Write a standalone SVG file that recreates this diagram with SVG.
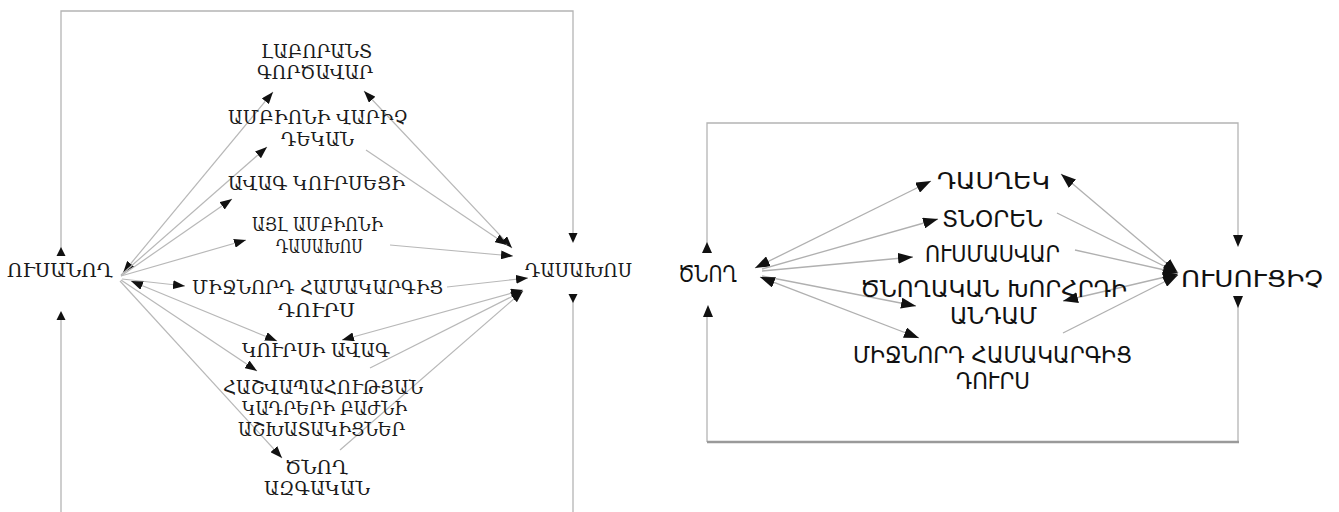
<svg xmlns="http://www.w3.org/2000/svg" width="1339" height="512" viewBox="0 0 1339 512">
<style>
.l{font-family:"DejaVu Serif","Noto Serif",serif;font-size:18.5px;fill:#1a1a1a;text-anchor:start}
.r{font-family:"DejaVu Sans","Noto Sans",sans-serif;font-size:22.5px;fill:#111;text-anchor:start}
.c{fill:none;stroke:#b8b8b8;stroke-width:1.2}
.cr{fill:none;stroke:#b0b0b0;stroke-width:1.3}
.f{fill:none;stroke:#b4b4b4;stroke-width:1.3}
.fb{fill:none;stroke:#9a9a9a;stroke-width:2.5}
.h{fill:#111}
</style>
<defs>
<marker id="a" viewBox="0 0 12 9" refX="12" refY="4.5" markerWidth="12" markerHeight="9" markerUnits="userSpaceOnUse" orient="auto-start-reverse"><path d="M0,0 L12,4.5 L0,9 z" fill="#111"/></marker>
<marker id="b" viewBox="0 0 15 11" refX="15" refY="5.5" markerWidth="15" markerHeight="11" markerUnits="userSpaceOnUse" orient="auto-start-reverse"><path d="M0,0 L15,5.5 L0,11 z" fill="#111"/></marker>
</defs>

<g id="connectors">
<!-- left frame -->
<polyline class="f" points="61,252 61,11 573,11 573,236"/>
<polygon class="h" points="61,247 56.5,256 65.5,256"/>
<polygon class="h" points="573,243 568.5,233 577.5,233"/>
<line class="f" x1="61" y1="318" x2="61" y2="512"/>
<polygon class="h" points="61,311 56.5,320 65.5,320"/>
<line class="f" x1="573" y1="300" x2="573" y2="512"/>
<polygon class="h" points="573,303 568.5,294 577.5,294"/>

<!-- left connectors from ՈՒՍԱՆՈՂ -->
<line class="c" x1="123" y1="273" x2="273" y2="92" marker-start="url(#a)" marker-end="url(#a)"/>
<line class="c" x1="121" y1="275" x2="267" y2="147" marker-end="url(#a)"/>
<line class="c" x1="121" y1="276" x2="232" y2="199" marker-end="url(#a)"/>
<line class="c" x1="121" y1="276" x2="246" y2="240" marker-end="url(#a)"/>
<line class="c" x1="122" y1="279" x2="185" y2="286" marker-end="url(#a)"/>
<line class="c" x1="131" y1="281" x2="277" y2="341" marker-start="url(#a)" marker-end="url(#a)"/>
<line class="c" x1="121" y1="280" x2="257" y2="371" marker-end="url(#a)"/>
<line class="c" x1="120" y1="281" x2="282" y2="458" marker-end="url(#a)"/>

<!-- left connectors to ԴԱՍԱԽՈՍ -->
<line class="c" x1="364" y1="91" x2="512" y2="248" marker-start="url(#a)" marker-end="url(#a)"/>
<line class="c" x1="366" y1="150" x2="507" y2="245" marker-end="url(#a)"/>
<line class="c" x1="390" y1="245" x2="513" y2="256" marker-end="url(#a)"/>
<line class="c" x1="447" y1="287" x2="528" y2="278" marker-end="url(#a)"/>
<line class="c" x1="342" y1="340" x2="523" y2="290" marker-start="url(#a)" marker-end="url(#a)"/>
<line class="c" x1="370" y1="368" x2="523" y2="291" marker-end="url(#a)"/>
<line class="c" x1="340" y1="450" x2="523" y2="291" marker-end="url(#a)"/>

<!-- right frame -->
<polyline class="f" points="707,250 707,123 1238,123 1238,236"/>
<polygon class="h" points="707,242 702,253 712,253"/>
<polygon class="h" points="1238,247 1233,235 1243,235"/>
<line class="f" x1="707" y1="317" x2="707" y2="442"/>
<line class="f" x1="1238" y1="306" x2="1238" y2="442"/>
<line class="fb" x1="707" y1="442" x2="1239" y2="442"/>
<polygon class="h" points="708,305 703,317 713,317"/>
<polygon class="h" points="1238,308 1233,296 1243,296"/>

<!-- right connectors from ԾՆՈՂ -->
<line class="cr" x1="755" y1="268" x2="931" y2="181" marker-start="url(#b)" marker-end="url(#b)"/>
<line class="cr" x1="762" y1="269" x2="938" y2="219" marker-end="url(#b)"/>
<line class="cr" x1="762" y1="271" x2="913" y2="257" marker-end="url(#b)"/>
<line class="cr" x1="762" y1="276" x2="916" y2="306" marker-end="url(#b)"/>
<line class="cr" x1="760" y1="277" x2="919" y2="338" marker-start="url(#b)" marker-end="url(#b)"/>

<!-- right connectors to ՈՒՍՈՒՑԻՉ -->
<line class="cr" x1="1061" y1="174" x2="1178" y2="273" marker-start="url(#b)" marker-end="url(#b)"/>
<line class="cr" x1="1057" y1="213" x2="1178" y2="273" marker-end="url(#b)"/>
<line class="cr" x1="1075" y1="250" x2="1178" y2="273" marker-end="url(#b)"/>
<line class="cr" x1="1063" y1="301" x2="1178" y2="274" marker-start="url(#b)" marker-end="url(#b)"/>
<line class="cr" x1="1063" y1="333" x2="1178" y2="275" marker-end="url(#b)"/>
</g>

<!-- left nodes -->
<g id="usanogh"><text class="l" x="7" y="277" textLength="106" lengthAdjust="spacingAndGlyphs">ՈՒՍԱՆՈՂ</text></g>
<g id="dasakhos"><text class="l" x="525" y="277" textLength="107" lengthAdjust="spacingAndGlyphs">ԴԱՍԱԽՈՍ</text></g>
<g id="laborant">
<text class="l" x="261" y="58" textLength="111" lengthAdjust="spacingAndGlyphs">ԼԱԲՈՐԱՆՏ</text>
<text class="l" x="257" y="79" textLength="116" lengthAdjust="spacingAndGlyphs">ԳՈՐԾԱՎԱՐ</text>
</g>
<g id="ambion-varich">
<text class="l" x="228" y="124" textLength="180" lengthAdjust="spacingAndGlyphs">ԱՄԲԻՈՆԻ ՎԱՐԻՉ</text>
<text class="l" x="281" y="146" textLength="73" lengthAdjust="spacingAndGlyphs">ԴԵԿԱՆ</text>
</g>
<g id="avag-kursetsi"><text class="l" x="228" y="190" textLength="177" lengthAdjust="spacingAndGlyphs">ԱՎԱԳ ԿՈՒՐՍԵՑԻ</text></g>
<g id="ayl-ambion">
<text class="l" x="252" y="231" textLength="131" lengthAdjust="spacingAndGlyphs">ԱՅԼ ԱՄԲԻՈՆԻ</text>
<text class="l" x="276" y="253" textLength="87" lengthAdjust="spacingAndGlyphs">ԴԱՍԱԽՈՍ</text>
</g>
<g id="mijnord-l">
<text class="l" x="192" y="294" textLength="251" lengthAdjust="spacingAndGlyphs">ՄԻՋՆՈՐԴ ՀԱՄԱԿԱՐԳԻՑ</text>
<text class="l" x="278" y="317" textLength="77" lengthAdjust="spacingAndGlyphs">ԴՈՒՐՍ</text>
</g>
<g id="kursi-avag"><text class="l" x="242" y="357" textLength="148" lengthAdjust="spacingAndGlyphs">ԿՈՒՐՍԻ ԱՎԱԳ</text></g>
<g id="hashvapah">
<text class="l" x="223" y="394" textLength="200" lengthAdjust="spacingAndGlyphs">ՀԱՇՎԱՊԱՀՈՒԹՅԱՆ</text>
<text class="l" x="242" y="415" textLength="165" lengthAdjust="spacingAndGlyphs">ԿԱԴՐԵՐԻ ԲԱԺՆԻ</text>
<text class="l" x="238" y="436" textLength="167" lengthAdjust="spacingAndGlyphs">ԱՇԽԱՏԱԿԻՑՆԵՐ</text>
</g>
<g id="tsnogh-azgakan">
<text class="l" x="285" y="474" textLength="63" lengthAdjust="spacingAndGlyphs">ԾՆՈՂ</text>
<text class="l" x="264" y="495" textLength="106" lengthAdjust="spacingAndGlyphs">ԱԶԳԱԿԱՆ</text>
</g>

<!-- right nodes -->
<g id="tsnogh"><text class="r" x="678" y="282" textLength="59" lengthAdjust="spacingAndGlyphs">ԾՆՈՂ</text></g>
<g id="usutsich"><text class="r" x="1181" y="287" textLength="142" lengthAdjust="spacingAndGlyphs">ՈՒՍՈՒՑԻՉ</text></g>
<g id="dasghek"><text class="r" x="937" y="189" textLength="113" lengthAdjust="spacingAndGlyphs">ԴԱՍՂԵԿ</text></g>
<g id="tnoren"><text class="r" x="942" y="227" textLength="101" lengthAdjust="spacingAndGlyphs">ՏՆՕՐԵՆ</text></g>
<g id="usmasvar"><text class="r" x="925" y="262" textLength="135" lengthAdjust="spacingAndGlyphs">ՈՒՍՄԱՍՎԱՐ</text></g>
<g id="khorhrd">
<text class="r" x="860" y="297" textLength="267" lengthAdjust="spacingAndGlyphs">ԾՆՈՂԱԿԱՆ ԽՈՐՀՐԴԻ</text>
<text class="r" x="950" y="324" textLength="87" lengthAdjust="spacingAndGlyphs">ԱՆԴԱՄ</text>
</g>
<g id="mijnord-r">
<text class="r" x="853" y="363" textLength="279" lengthAdjust="spacingAndGlyphs">ՄԻՋՆՈՐԴ ՀԱՄԱԿԱՐԳԻՑ</text>
<text class="r" x="956" y="389" textLength="74" lengthAdjust="spacingAndGlyphs">ԴՈՒՐՍ</text>
</g>
</svg>
